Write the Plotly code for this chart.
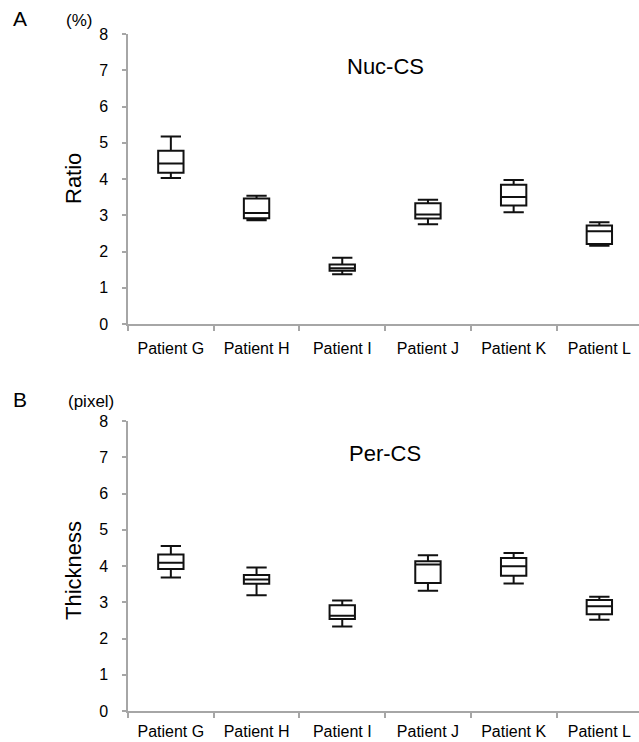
import plotly.graph_objects as go

W, H = 639, 742

patients = ["Patient G", "Patient H", "Patient I", "Patient J", "Patient K", "Patient L"]

# Panel A: Nuc-CS ratio (%)
a_low = [4.03, 2.86, 1.37, 2.75, 3.08, 2.16]
a_q1 = [4.17, 2.92, 1.47, 2.91, 3.27, 2.21]
a_med = [4.43, 3.06, 1.54, 3.02, 3.50, 2.56]
a_q3 = [4.78, 3.46, 1.64, 3.33, 3.84, 2.72]
a_high = [5.17, 3.54, 1.83, 3.43, 3.97, 2.81]

# Panel B: Per-CS thickness (pixel)
b_low = [3.68, 3.19, 2.33, 3.32, 3.52, 2.52]
b_q1 = [3.92, 3.51, 2.54, 3.53, 3.73, 2.67]
b_med = [4.09, 3.63, 2.63, 4.04, 3.99, 2.89]
b_q3 = [4.32, 3.75, 2.92, 4.13, 4.22, 3.06]
b_high = [4.55, 3.96, 3.05, 4.30, 4.36, 3.15]

yticks = [0, 1, 2, 3, 4, 5, 6, 7, 8]

FONT = "Liberation Sans, Arial, sans-serif"
AXC = "#a6a6a6"

fig = go.Figure()

def add_box(lo, q1, med, q3, hi, xa, ya):
    fig.add_trace(go.Box(
        x=patients, lowerfence=lo, q1=q1, median=med, q3=q3, upperfence=hi,
        width=0.296, whiskerwidth=0.8,
        line=dict(color="#111111", width=2), fillcolor="white",
        boxpoints=False, showlegend=False, xaxis=xa, yaxis=ya,
    ))

add_box(a_low, a_q1, a_med, a_q3, a_high, "x", "y")
add_box(b_low, b_q1, b_med, b_q3, b_high, "x2", "y2")

x0 = 128 / W
xrange = [-0.5, -0.5 + (W - 128) / 85.7]

def ydom(top_px, bot_px):
    return [(H - bot_px) / H, (H - top_px) / H]

def xax(standoff, anchor):
    return dict(
        domain=[x0, 1], range=xrange, type="category", anchor=anchor,
        showline=True, linecolor=AXC, linewidth=1.5,
        ticks="outside", tickson="boundaries", ticklen=5, tickcolor=AXC, tickwidth=1.5,
        showgrid=False, zeroline=False, automargin=False,
        tickfont=dict(family=FONT, size=16, color="#000"), ticklabelstandoff=standoff,
        fixedrange=True,
    )

ycommon = dict(
    range=[0, 8], tickvals=yticks,
    showline=True, linecolor=AXC, linewidth=1.5,
    ticks="outside", ticklen=4, tickcolor=AXC, tickwidth=1.5,
    showgrid=False, zeroline=False, automargin=False,
    tickfont=dict(family=FONT, size=16, color="#000"), ticklabelstandoff=11,
    fixedrange=True,
)

fig.update_layout(
    width=W, height=H,
    margin=dict(l=0, r=0, t=0, b=0),
    paper_bgcolor="white", plot_bgcolor="white",
    xaxis=xax(9, "y"),
    yaxis=dict(**ycommon, domain=ydom(34, 324), anchor="x"),
    xaxis2=xax(5, "y2"),
    yaxis2=dict(**ycommon, domain=ydom(421, 711), anchor="x2"),
)

def ann(text, xp, yp, size, rot=0):
    fig.add_annotation(
        text=text, x=xp / W, y=1 - yp / H, xref="paper", yref="paper",
        showarrow=False, xanchor="center", yanchor="middle", textangle=rot,
        font=dict(family=FONT, size=size, color="#000"),
    )

ann("A", 20, 19, 21)
ann("(%)", 79, 20, 17)
ann("Nuc-CS", 385, 66, 22)
ann("Ratio", 73, 179, 22, -90)
ann("B", 20, 400, 21)
ann("(pixel)", 91, 401, 17)
ann("Per-CS", 385, 453, 22)
ann("Thickness", 73, 571, 22, -90)

fig.write_html("out.html")
